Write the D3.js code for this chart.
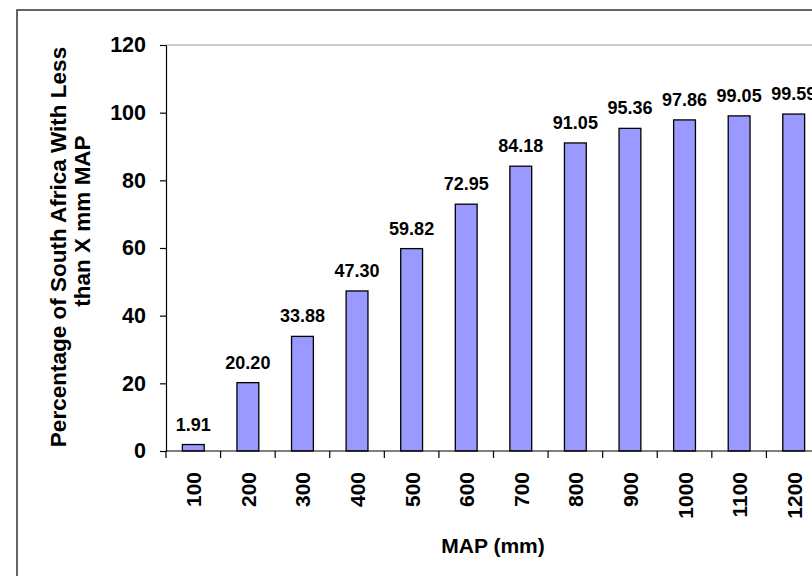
<!DOCTYPE html>
<html>
<head>
<meta charset="utf-8">
<script src="https://cdn.jsdelivr.net/npm/d3@7"></script>
<style>
  body { margin: 0; background: #fff; }
  svg { display: block; font-family: "Liberation Sans", Arial, sans-serif; }
</style>
</head>
<body>
<svg id="chart" width="812" height="576"></svg>
<script>
  // categories (MAP in mm) and cumulative percentage of area
  var categories = ['100', '200', '300', '400', '500', '600', '700', '800', '900', '1000', '1100', '1200'];
  var values = [1.91, 20.20, 33.88, 47.30, 59.82, 72.95, 84.18, 91.05, 95.36, 97.86, 99.05, 99.59];
  var yTicks = [0, 20, 40, 60, 80, 100, 120];

  var svg = d3.select('#chart');
  var margin = { top: 45, left: 166, bottom: 451 };
  var plotWidth = 655;

  // outer chart border (runs past the right / bottom edges)
  svg.append('rect')
    .attr('x', 17).attr('y', 10)
    .attr('width', 900).attr('height', 700)
    .attr('fill', 'none')
    .attr('stroke', '#333')
    .attr('stroke-width', 1.5);

  var x = d3.scaleBand()
    .domain(categories)
    .range([margin.left, margin.left + plotWidth])
    .paddingInner(0.6)
    .paddingOuter(0.3);

  var y = d3.scaleLinear()
    .domain([0, 120])
    .range([margin.bottom, margin.top]);

  // plot area border (gray, top and right)
  svg.append('path')
    .attr('d', 'M' + margin.left + ',' + margin.top + 'H' + (margin.left + plotWidth) + 'V' + margin.bottom)
    .attr('fill', 'none')
    .attr('stroke', '#999')
    .attr('stroke-width', 1.2);

  // bars
  svg.selectAll('rect.bar')
    .data(values)
    .enter()
    .append('rect')
    .attr('class', 'bar')
    .attr('x', function(d, i) { return x(categories[i]); })
    .attr('y', function(d) { return y(d); })
    .attr('width', x.bandwidth())
    .attr('height', function(d) { return y(0) - y(d); })
    .attr('fill', '#9999ff')
    .attr('stroke', '#000')
    .attr('stroke-width', 1.3);

  // value labels
  svg.selectAll('text.val')
    .data(values)
    .enter()
    .append('text')
    .attr('class', 'val')
    .attr('x', function(d, i) { return x(categories[i]) + x.bandwidth() / 2; })
    .attr('y', function(d) { return y(d) - 14; })
    .attr('text-anchor', 'middle')
    .style('font-size', '18px')
    .style('font-weight', 'bold')
    .text(function(d) { return d.toFixed(2); });

  // y axis
  var yAxis = svg.append('g')
    .attr('transform', 'translate(' + margin.left + ',0)')
    .call(d3.axisLeft(y).tickValues(yTicks).tickSize(6).tickPadding(14).tickSizeOuter(0));
  yAxis.select('.domain').attr('stroke', '#000').attr('stroke-width', 1.2);
  yAxis.selectAll('.tick line').attr('stroke', '#000').attr('stroke-width', 1.2);
  yAxis.selectAll('text')
    .style('font-size', '21.5px')
    .style('font-weight', 'bold')
    .style('font-family', '"Liberation Sans", Arial, sans-serif')
    .attr('fill', '#000');

  // x axis: ticks sit on category boundaries
  var step = x.step();
  var boundaries = d3.range(categories.length + 1).map(function(i) { return margin.left + i * step; });
  var xAxis = svg.append('g');
  xAxis.append('line')
    .attr('x1', margin.left).attr('x2', margin.left + plotWidth)
    .attr('y1', margin.bottom).attr('y2', margin.bottom)
    .attr('stroke', '#000').attr('stroke-width', 1.2);
  xAxis.selectAll('line.tk')
    .data(boundaries)
    .enter()
    .append('line')
    .attr('class', 'tk')
    .attr('x1', function(d) { return d; }).attr('x2', function(d) { return d; })
    .attr('y1', margin.bottom).attr('y2', margin.bottom + 7)
    .attr('stroke', '#000').attr('stroke-width', 1.2);
  xAxis.selectAll('text')
    .data(categories)
    .enter()
    .append('text')
    .attr('transform', function(d) {
      return 'translate(' + (x(d) + x.bandwidth() / 2 + 8) + ',' + (margin.bottom + 21) + ') rotate(-90)';
    })
    .attr('text-anchor', 'end')
    .style('font-size', '21px')
    .style('font-weight', 'bold')
    .text(function(d) { return d; });

  // axis titles
  svg.append('text')
    .attr('x', 493).attr('y', 553)
    .attr('text-anchor', 'middle')
    .style('font-size', '21px')
    .style('font-weight', 'bold')
    .text('MAP (mm)');

  svg.append('text')
    .attr('transform', 'translate(66,247) rotate(-90)')
    .attr('text-anchor', 'middle')
    .style('font-size', '22.5px')
    .style('font-weight', 'bold')
    .text('Percentage of South Africa With Less');
  svg.append('text')
    .attr('transform', 'translate(90,221) rotate(-90)')
    .attr('text-anchor', 'middle')
    .style('font-size', '22.5px')
    .style('font-weight', 'bold')
    .text('than X mm MAP');
</script>
</body>
</html>
